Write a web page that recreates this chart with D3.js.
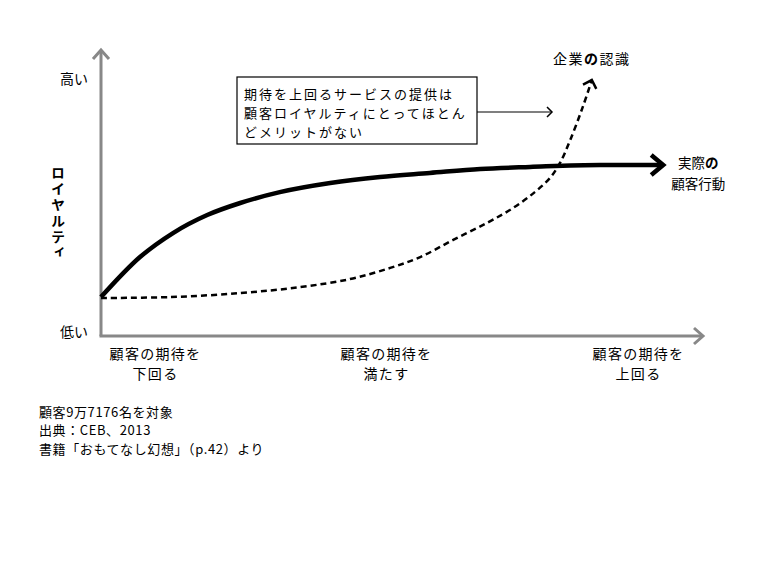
<!DOCTYPE html>
<html>
<head>
<meta charset="utf-8">
<script src="https://cdn.jsdelivr.net/npm/d3@7"></script>
<style>
  body { margin: 0; background: #fff; }
  text { font-family: "Noto Sans CJK JP", "Noto Sans", sans-serif; fill: #000; }
</style>
</head>
<body>
<script>
// Expectation axis (0..100) and loyalty axis (0..100)
var xTickPos = [9, 47.5, 89.5];
var xTickLines = [["顧客の期待を", "下回る"], ["顧客の期待を", "満たす"], ["顧客の期待を", "上回る"]];
var yTickPos = [1.5, 90];
var yTickLabels = ["低い", "高い"];
var yTitle = "ロイヤルティ";

// Actual customer behaviour (solid)
var actualX = [0, 6.5, 12, 17.7, 23.2, 29.8, 38.2, 46.5, 54.8, 63.2, 71.5, 83.2, 93.7];
var actualY = [13.6, 27.6, 36, 42.3, 46.5, 50.3, 53.5, 55.6, 57, 58.4, 59.1, 59.8, 59.8];

// Company perception (dashed)
var perceivedX = [0, 11.5, 23.2, 33.2, 41.5, 48.2, 53.2, 58.7, 64.3, 68.7, 72.3, 74.8, 76.5, 78.2, 80.3, 81.8];
var perceivedY = [13.3, 13.6, 15, 17.1, 19.9, 23.8, 27.6, 33.6, 39.5, 44.8, 50.3, 55.2, 60.5, 68.5, 80.1, 89.5];

var boxLines = ["期待を上回るサービスの提供は", "顧客ロイヤルティにとってほとん", "どメリットがない"];
var notes = ["顧客9万7176名を対象", "出典：CEB、2013", "書籍「おもてなし幻想」（p.42）より"];

var W = 780, H = 575;
var svg = d3.select("body").append("svg")
    .attr("width", W)
    .attr("height", H);

var x = d3.scaleLinear().domain([0, 100]).range([101, 701]);
var y = d3.scaleLinear().domain([0, 100]).range([336, 50]);

var defs = svg.append("defs");
function chevron(id, depth, half, color, sw) {
  defs.append("marker")
      .attr("id", id)
      .attr("markerUnits", "userSpaceOnUse")
      .attr("viewBox", (-depth - 4) + " " + (-half - 4) + " " + (depth + 8) + " " + (2 * half + 8))
      .attr("markerWidth", depth + 8)
      .attr("markerHeight", 2 * half + 8)
      .attr("refX", 0).attr("refY", 0)
      .attr("orient", "auto")
    .append("path")
      .attr("d", "M" + (-depth) + "," + (-half) + "L0,0L" + (-depth) + "," + half)
      .attr("fill", "none")
      .attr("stroke", color)
      .attr("stroke-width", sw)
      .attr("stroke-linejoin", "miter");
}
chevron("axisArrow", 9, 8, "#888", 3);
chevron("solidArrow", 12, 10, "#000", 4.5);
chevron("dashArrow", 7, 7, "#000", 2.5);
chevron("noteArrow", 5, 5, "#000", 1.5);

// axes lines
svg.append("path")
    .attr("d", "M" + x(0) + "," + y(0) + "V" + y(100))
    .attr("stroke", "#888").attr("stroke-width", 3).attr("fill", "none")
    .attr("marker-end", "url(#axisArrow)");
svg.append("path")
    .attr("d", "M" + (x(0) - 1.5) + "," + y(0) + "H" + (x(100) + 2))
    .attr("stroke", "#888").attr("stroke-width", 3).attr("fill", "none")
    .attr("marker-end", "url(#axisArrow)");

// y tick labels
var yAxis = svg.append("g")
    .attr("transform", "translate(" + x(0) + ",0)")
    .call(d3.axisLeft(y).tickValues(yTickPos).tickSize(0).tickPadding(13)
      .tickFormat(function(d, i) { return yTickLabels[i]; }));
yAxis.select(".domain").remove();
yAxis.selectAll("text")
    .style("font-family", "'Noto Sans CJK JP', sans-serif")
    .style("font-size", "14px")
    .attr("fill", "#000");

// x tick labels (two lines)
var xAxis = svg.append("g")
    .attr("transform", "translate(0," + y(0) + ")")
    .call(d3.axisBottom(x).tickValues(xTickPos).tickSize(0).tickFormat(""));
xAxis.select(".domain").remove();
xAxis.selectAll(".tick").each(function(d, i) {
  var t = d3.select(this).append("text")
      .attr("fill", "#000")
      .attr("text-anchor", "middle")
      .style("font-size", "14px")
      .style("letter-spacing", "1.3px");
  xTickLines[i].forEach(function(line, j) {
    t.append("tspan").attr("x", 0).attr("y", 17 + j * 20)
      .attr("dominant-baseline", "central").text(line);
  });
});

// y title, vertical
svg.append("text")
    .attr("x", 58)
    .attr("y", 166)
    .style("writing-mode", "vertical-rl")
    .style("text-orientation", "upright")
    .style("font-size", "14px")
    .style("font-weight", "bold")
    .style("letter-spacing", "1.8px")
    .text(yTitle);

// curves
var line = d3.line()
    .x(function(d) { return x(d[0]); })
    .y(function(d) { return y(d[1]); })
    .curve(d3.curveMonotoneX);

var dashLine = d3.line()
    .x(function(d) { return x(d[0]); })
    .y(function(d) { return y(d[1]); })
    .curve(d3.curveCatmullRom.alpha(0.5));

svg.append("path")
    .datum(d3.zip(perceivedX, perceivedY))
    .attr("d", dashLine)
    .attr("fill", "none")
    .attr("stroke", "#000")
    .attr("stroke-width", 2.5)
    .attr("stroke-dasharray", "6,4")
    .attr("marker-end", "url(#dashArrow)");

svg.append("path")
    .datum(d3.zip(actualX, actualY))
    .attr("d", line)
    .attr("fill", "none")
    .attr("stroke", "#000")
    .attr("stroke-width", 4.5)
    .attr("marker-end", "url(#solidArrow)");

// curve labels
var endA = actualX.length - 1, endP = perceivedX.length - 1;
var lab1 = svg.append("text")
    .attr("x", x(perceivedX[endP]))
    .attr("y", 58)
    .attr("text-anchor", "middle")
    .attr("dominant-baseline", "central")
    .style("font-size", "14px")
    .style("letter-spacing", "1.5px");
lab1.append("tspan").text("企業");
lab1.append("tspan").style("font-weight", "bold").text("の");
lab1.append("tspan").text("認識");

var lab2 = svg.append("text")
    .attr("text-anchor", "middle")
    .style("font-size", "13.5px");
var t1 = lab2.append("tspan").attr("x", x(actualX[endA]) + 35).attr("y", 162).attr("dominant-baseline", "central");
t1.append("tspan").text("実際");
t1.append("tspan").style("font-weight", "bold").text("の");
lab2.append("tspan").attr("x", x(actualX[endA]) + 35).attr("y", 183)
    .attr("dominant-baseline", "central").text("顧客行動");

// annotation box
svg.append("rect")
    .attr("x", 237).attr("y", 77)
    .attr("width", 240).attr("height", 67)
    .attr("fill", "#fff").attr("stroke", "#000").attr("stroke-width", 1.2);
var boxText = svg.append("text")
    .style("font-size", "13px")
    .style("letter-spacing", "2px");
boxLines.forEach(function(d, i) {
  boxText.append("tspan")
      .attr("x", 244)
      .attr("y", 93 + i * 19)
      .attr("dominant-baseline", "central")
      .text(d);
});
svg.append("path")
    .attr("d", "M477,112H552")
    .attr("stroke", "#000").attr("stroke-width", 1.2).attr("fill", "none")
    .attr("marker-end", "url(#noteArrow)");

// footnotes
svg.append("g").selectAll("text")
    .data(notes)
  .enter().append("text")
    .attr("x", 39)
    .attr("y", function(d, i) { return 411 + i * 18.5; })
    .attr("dominant-baseline", "central")
    .style("font-size", "13px")
    .style("letter-spacing", "0.6px")
    .text(function(d) { return d; });
</script>
</body>
</html>
